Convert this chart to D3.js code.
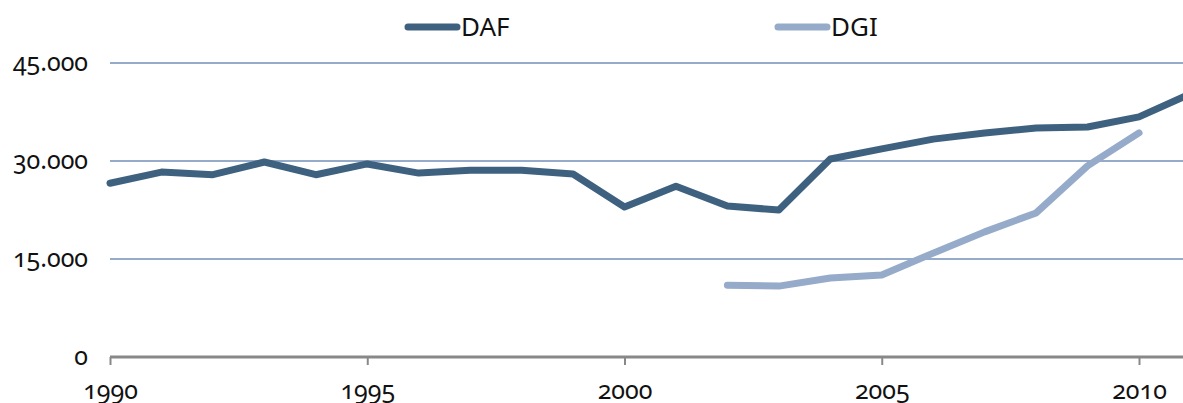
<!DOCTYPE html>
<html>
<head>
<meta charset="utf-8">
<title>DAF / DGI</title>
<script src="https://d3js.org/d3.v7.min.js"></script>
<style>
    html, body { margin: 0; padding: 0; background: #fff; }
    svg text {
        font-family: "Noto Sans", "Open Sans", sans-serif;
        fill: #111;
        font-variant-numeric: oldstyle-nums;
        font-feature-settings: "onum" 1;
    }
</style>
</head>
<body>
<svg id="chart"></svg>
<script>
// dati
var years = d3.range(1990, 2012);
var daf = [26600, 28300, 27900, 29850, 27900, 29550, 28150, 28600, 28600, 28000,
           22950, 26150, 23100, 22500, 30300, 31850, 33350, 34300, 35050, 35200,
           36750, 40300];
var dgiYears = [2002, 2003, 2004, 2005, 2006, 2007, 2008, 2009, 2010];
var dgi = [11000, 10850, 12100, 12550, 15900, 19150, 22050, 29250, 34300];
var yTicks = [0, 15000, 30000, 45000];
var xTicks = [1990, 1995, 2000, 2005, 2010];
var seriesNames = ["DAF", "DGI"];
var colors = ["#3f6180", "#95abc9"];

var width = 1183, height = 403;
var marginLeft = 110, plotBottom = 357, plotTop = 63;

var svg = d3.select("#chart").attr("width", width).attr("height", height);

var x = d3.scaleLinear().domain([1990, 2011]).range([marginLeft, marginLeft + 21 * 51.45]);
var y = d3.scaleLinear().domain([0, 45000]).range([plotBottom, plotTop]);

var fmt = function (d) { return d === 0 ? "0" : d3.format(",")(d).replace(/,/g, "."); };

// griglia
svg.append("g").selectAll("line")
    .data(yTicks.filter(function (d) { return d > 0; }))
    .enter().append("line")
    .attr("x1", marginLeft).attr("x2", width)
    .attr("y1", function (d) { return y(d); })
    .attr("y2", function (d) { return y(d); })
    .attr("stroke", "#95abc9")
    .attr("stroke-width", 2);

// etichette asse y
svg.append("g").selectAll("text")
    .data(yTicks)
    .enter().append("text")
    .attr("x", 88)
    .attr("y", function (d) { return y(d); })
    .attr("dy", "0.3em")
    .attr("text-anchor", "end")
    .style("font-size", "25px")
    .text(fmt);

// asse x
var xAxis = d3.axisBottom(x).tickValues(xTicks).tickSize(8).tickPadding(16).tickFormat(d3.format("d"));
var gx = svg.append("g")
    .attr("transform", "translate(0," + plotBottom + ")")
    .call(xAxis);
gx.select(".domain").attr("d", "M" + marginLeft + ",0H" + width).attr("stroke", "#888").attr("stroke-width", 3);
gx.selectAll(".tick line").attr("stroke", "#888").attr("stroke-width", 2);
gx.selectAll(".tick text").style("font-size", "25px").attr("fill", "#111");

// linee
var line = d3.line()
    .x(function (d) { return x(d[0]); })
    .y(function (d) { return y(d[1]); });

svg.append("defs").append("clipPath").attr("id", "clip")
    .append("rect").attr("x", 0).attr("y", 0).attr("width", width).attr("height", height);

var series = [
    years.map(function (yr, i) { return [yr, daf[i]]; }),
    dgiYears.map(function (yr, i) { return [yr, dgi[i]]; })
];

svg.append("g").attr("clip-path", "url(#clip)")
    .selectAll("path")
    .data(series)
    .enter().append("path")
    .attr("d", line)
    .attr("fill", "none")
    .attr("stroke", function (d, i) { return colors[i]; })
    .attr("stroke-width", 7)
    .attr("stroke-linejoin", "round")
    .attr("stroke-linecap", "round");

// legenda
var legX = [408, 778];
var leg = svg.append("g").selectAll("g")
    .data(seriesNames)
    .enter().append("g")
    .attr("transform", function (d, i) { return "translate(" + legX[i] + ",27)"; });
leg.append("line")
    .attr("x1", 0).attr("x2", 49)
    .attr("stroke", function (d, i) { return colors[i]; })
    .attr("stroke-width", 7)
    .attr("stroke-linecap", "round");
leg.append("text")
    .attr("x", 53)
    .attr("dy", "0.35em")
    .style("font-size", "26px")
    .text(function (d) { return d; });
</script>
</body>
</html>
